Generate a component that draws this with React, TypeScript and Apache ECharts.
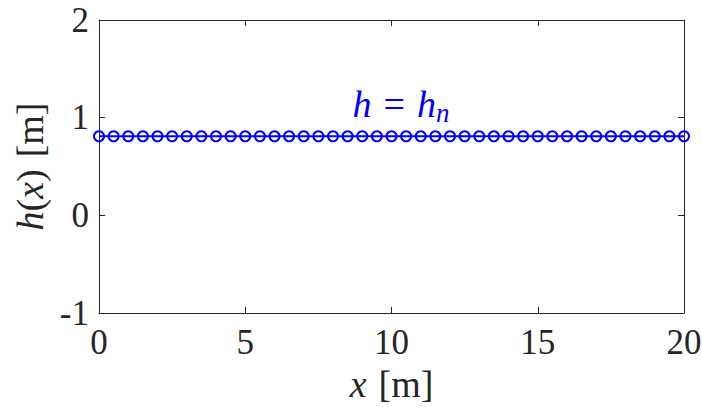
import React, { useEffect, useRef } from "react";
import * as echarts from "echarts";

const xValues: number[] = [
  0, 0.5, 1, 1.5, 2, 2.5, 3, 3.5, 4, 4.5, 5, 5.5, 6, 6.5, 7, 7.5, 8, 8.5, 9, 9.5,
  10, 10.5, 11, 11.5, 12, 12.5, 13, 13.5, 14, 14.5, 15, 15.5, 16, 16.5, 17, 17.5,
  18, 18.5, 19, 19.5, 20,
];
const hValues: number[] = [
  0.81, 0.81, 0.81, 0.81, 0.81, 0.81, 0.81, 0.81, 0.81, 0.81, 0.81, 0.81, 0.81, 0.81,
  0.81, 0.81, 0.81, 0.81, 0.81, 0.81, 0.81, 0.81, 0.81, 0.81, 0.81, 0.81, 0.81, 0.81,
  0.81, 0.81, 0.81, 0.81, 0.81, 0.81, 0.81, 0.81, 0.81, 0.81, 0.81, 0.81, 0.81,
];
const xTicks = { min: 0, max: 20, interval: 5 };
const yTicks = { min: -1, max: 2, interval: 1 };

const FONT = "Liberation Serif";
const AXIS_COLOR = "#262626";
const BLUE = "#0000ff";

export default function App() {
  const ref = useRef<HTMLDivElement>(null);
  useEffect(() => {
    if (!ref.current) return;
    const chart = echarts.init(ref.current, undefined, { renderer: "svg" });
    const data = xValues.map((x, i) => [x, hValues[i]]);
    const axisCommon = {
      axisLine: { show: true, onZero: false, lineStyle: { color: AXIS_COLOR, width: 1 } },
      axisTick: { show: true, inside: true, length: 6, lineStyle: { color: AXIS_COLOR } },
      splitLine: { show: false },
    };
    const labelRich = {
      i: { fontFamily: FONT, fontStyle: "italic", fontSize: 38, color: AXIS_COLOR },
      n: { fontFamily: FONT, fontSize: 38, color: AXIS_COLOR },
      g: { fontFamily: FONT, fontSize: 38, color: AXIS_COLOR, width: 12 },
    };
    chart.setOption({
      animation: false,
      backgroundColor: "#ffffff",
      textStyle: { fontFamily: FONT },
      grid: {
        left: 99,
        right: 18,
        top: 20,
        bottom: 94,
        containLabel: false,
        outerBoundsMode: "none",
      },
      xAxis: [
        {
          type: "value",
          min: xTicks.min,
          max: xTicks.max,
          interval: xTicks.interval,
          position: "bottom",
          ...axisCommon,
          axisLabel: { color: AXIS_COLOR, fontFamily: FONT, fontSize: 35, margin: 12 },
          name: "{i|x}{g|}{n|[m]}",
          nameLocation: "middle",
          nameGap: 49,
          nameTextStyle: { rich: labelRich },
        },
        {
          type: "value",
          min: xTicks.min,
          max: xTicks.max,
          interval: xTicks.interval,
          position: "top",
          ...axisCommon,
          axisLabel: { show: false },
        },
      ],
      yAxis: [
        {
          type: "value",
          min: yTicks.min,
          max: yTicks.max,
          interval: yTicks.interval,
          position: "left",
          ...axisCommon,
          axisLabel: { color: AXIS_COLOR, fontFamily: FONT, fontSize: 35, margin: 10 },
          name: "{i|h}{n|(}{i|x}{n|)}{g|}{n|[m]}",
          nameLocation: "middle",
          nameRotate: 90,
          nameGap: 47,
          nameTextStyle: { rich: labelRich },
        },
        {
          type: "value",
          min: yTicks.min,
          max: yTicks.max,
          interval: yTicks.interval,
          position: "right",
          ...axisCommon,
          axisLabel: { show: false },
        },
      ],
      series: [
        {
          type: "line",
          data,
          xAxisIndex: 0,
          yAxisIndex: 0,
          symbol: "circle",
          symbolSize: 10,
          showAllSymbol: true,
          lineStyle: { color: BLUE, width: 2 },
          itemStyle: { color: "rgba(0,0,0,0)", borderColor: BLUE, borderWidth: 2 },
          clip: false,
        },
      ],
      graphic: [
        {
          type: "text",
          x: 401,
          y: 104,
          style: {
            text: "{i|h}{g|}{n|=}{g|}{i|h}{s|n}",
            align: "center",
            verticalAlign: "middle",
            rich: {
              i: { fontFamily: FONT, fontStyle: "italic", fontSize: 38, fill: BLUE },
              n: { fontFamily: FONT, fontSize: 38, fill: BLUE },
              g: { fontFamily: FONT, fontSize: 38, fill: BLUE, width: 12 },
              s: { fontFamily: FONT, fontStyle: "italic", fontSize: 27, fill: BLUE, padding: [18, 0, 0, 0] },
            },
          },
        },
      ],
    });
    return () => chart.dispose();
  }, []);
  return (
    <div
      ref={ref}
      style={{ position: "fixed", left: 0, top: 0, width: 702, height: 407, background: "#fff" }}
    />
  );
}
